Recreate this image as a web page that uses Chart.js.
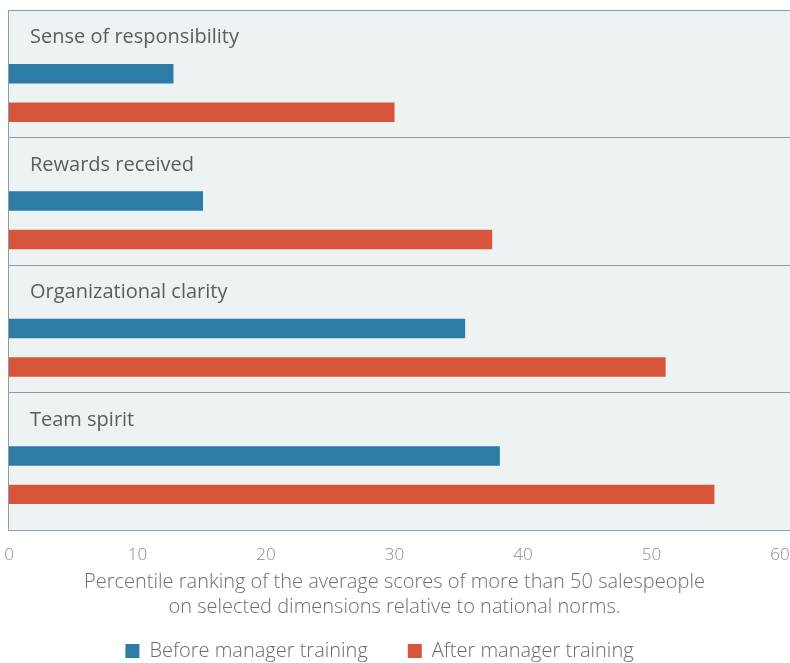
<!DOCTYPE html>
<html>
<head>
<meta charset="utf-8">
<script src="https://cdn.jsdelivr.net/npm/chart.js@4.4.1/dist/chart.umd.min.js"></script>
<style>
  html, body { margin: 0; padding: 0; background: #fff; }
  #wrap { width: 790px; height: 663px; }
</style>
</head>
<body>
<div id="wrap"><canvas id="chart"></canvas></div>
<script>
// Climate dimensions, percentile rank vs national norms
const dimensions = ['Sense of responsibility', 'Rewards received', 'Organizational clarity', 'Team spirit'];
const beforeTraining = [12.8, 15.1, 35.5, 38.2];
const afterTraining = [30.0, 37.6, 51.1, 54.9];
const axisTicks = [0, 10, 20, 30, 40, 50, 60];
const axisTitle = [
  'Percentile ranking of the average scores of more than 50 salespeople',
  'on selected dimensions relative to national norms.'
];

const BLUE = '#2e7ca6';
const RED = '#d6553b';
const PANEL_BG = '#edf3f3';
const RULE = '#8e9aa6';
const FONT = 'Open Sans';

// Light panel behind the bars, with a rule between each dimension
const panelPlugin = {
  id: 'panels',
  beforeDraw(chart) {
    const {ctx, chartArea, width} = chart;
    const y = chart.scales.y;
    const left = chartArea.left - 1;
    const bottom = chartArea.bottom + 10;
    ctx.save();
    ctx.fillStyle = PANEL_BG;
    ctx.fillRect(left, chartArea.top, width - left, bottom - chartArea.top);
    ctx.strokeStyle = RULE;
    ctx.lineWidth = 1;
    ctx.beginPath();
    const rules = [chartArea.top, bottom];
    for (let i = 0; i < dimensions.length - 1; i++) {
      rules.push((y.getPixelForTick(i) + y.getPixelForTick(i + 1)) / 2);
    }
    rules.forEach(r => {
      const yy = Math.round(r) + 0.5;
      ctx.moveTo(left, yy);
      ctx.lineTo(width, yy);
    });
    ctx.moveTo(left + 0.5, chartArea.top);
    ctx.lineTo(left + 0.5, bottom);
    ctx.stroke();
    ctx.restore();
  }
};

const ctx = document.getElementById('chart').getContext('2d');
new Chart(ctx, {
  type: 'bar',
  data: {
    labels: dimensions,
    datasets: [
      // empty first slot keeps room for the dimension name above the bars
      {label: '', data: dimensions.map(() => null)},
      {label: 'Before manager training', data: beforeTraining, backgroundColor: BLUE},
      {label: 'After manager training', data: afterTraining, backgroundColor: RED}
    ]
  },
  options: {
    indexAxis: 'y',
    responsive: true,
    maintainAspectRatio: false,
    animation: false,
    layout: {padding: {top: 10, left: 9, right: 0, bottom: -8}},
    datasets: {
      bar: {categoryPercentage: 0.906, barPercentage: 0.506}
    },
    scales: {
      x: {
        min: 0,
        max: 60,
        afterBuildTicks: scale => {
          scale.ticks = axisTicks.map(v => ({value: v}));
        },
        // tick padding only pushes labels down, not the sides in
        afterFit: scale => {
          scale.paddingLeft = 4;
          scale.paddingRight = 10;
        },
        grid: {display: false, drawTicks: false},
        border: {display: false},
        ticks: {
          color: '#8a8a8a',
          padding: 25,
          font: {family: FONT, size: 17, weight: 300}
        },
        title: {
          display: true,
          text: axisTitle,
          color: '#6e6e6e',
          // negative top cancels the tick padding that chart.js repeats under the labels
          padding: {top: -20, bottom: 21},
          font: {family: FONT, size: 20, weight: 300, lineHeight: 1.25}
        }
      },
      y: {
        afterFit: scale => {
          scale.width = 0;
          scale.paddingTop = 0;
          scale.paddingBottom = 0;
        },
        grid: {display: false, drawTicks: false},
        border: {display: false},
        ticks: {
          mirror: true,
          padding: 21,
          labelOffset: -36,
          color: '#5a5d60',
          font: {family: FONT, size: 20}
        }
      }
    },
    plugins: {
      legend: {
        position: 'bottom',
        labels: {
          generateLabels: chart => Chart.defaults.plugins.legend.labels.generateLabels(chart)
              .filter(item => item.text !== '')
              .map(item => ({...item, text: item.text + '\u2003\u2003'})),
          boxWidth: 14,
          boxHeight: 14,
          padding: 0,
          color: '#6a6a6a',
          font: {family: FONT, size: 20, weight: 300}
        }
      },
      tooltip: {enabled: false}
    }
  },
  plugins: [panelPlugin]
});
</script>
</body>
</html>
